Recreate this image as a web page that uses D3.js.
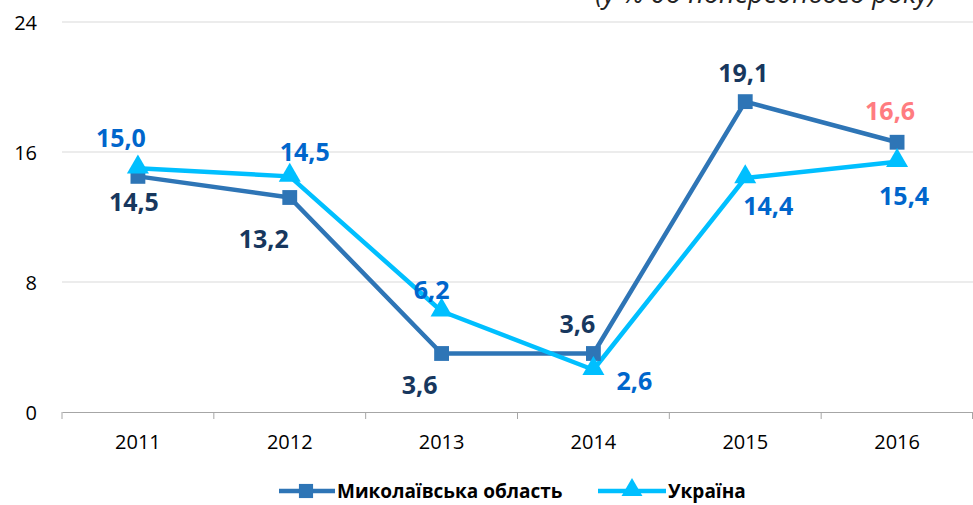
<!DOCTYPE html>
<html>
<head>
<meta charset="utf-8">
<script src="https://cdn.jsdelivr.net/npm/d3@7"></script>
<style>
  body { margin: 0; background: #fff; }
  svg { display: block; font-family: "Open Sans", sans-serif; }
</style>
</head>
<body>
<svg width="973" height="505"></svg>
<script>
var years = ['2011', '2012', '2013', '2014', '2015', '2016'];
var mykolaiv = [14.5, 13.2, 3.6, 3.6, 19.1, 16.6];
var ukraine = [15.0, 14.5, 6.2, 2.6, 14.4, 15.4];
var yTicks = [0, 8, 16, 24];

// label placement per point [dx, dy]
var mykOffsets = [[-4, 25], [-26, 40], [-22, 30], [-16, -31], [-2, -30], [-7, -32]];
var ukrOffsets = [[-17, -31], [15, -25], [-10, -22], [41, 10], [23, 27], [7, 33]];
var mykLabelColors = ['#17375e', '#17375e', '#17375e', '#17375e', '#17375e', '#ff7c80'];

var width = 973, height = 505;
var margin = {left: 62, right: 0, top: 22, bottom: 93};

const svg = d3.select('svg');

var x = d3.scaleBand().domain(years).range([margin.left, width - margin.right]);
var y = d3.scaleLinear().domain([0, 24]).range([height - margin.bottom, margin.top]);

// subtitle, cut off by the top edge as in the source
svg.append('text')
  .attr('x', 936).attr('y', 3)
  .attr('text-anchor', 'end')
  .style('font-style', 'italic')
  .style('font-size', '27px')
  .attr('fill', '#222')
  .text('(у % до попереднього року)');

// gridlines
svg.append('g')
  .selectAll('line')
  .data(yTicks.filter(d => d > 0))
  .enter().append('line')
  .attr('x1', margin.left).attr('x2', width)
  .attr('y1', d => y(d)).attr('y2', d => y(d))
  .style('stroke', '#d9d9d9').style('stroke-width', 1.2);

// y tick labels
svg.append('g')
  .selectAll('text')
  .data(yTicks)
  .enter().append('text')
  .attr('x', 37).attr('y', d => y(d))
  .attr('text-anchor', 'end')
  .attr('dominant-baseline', 'central')
  .style('font-size', '20px')
  .attr('fill', '#000')
  .text(d => d);

// x axis
var xAxis = d3.axisBottom(x).tickSize(0).tickPadding(23);
var gx = svg.append('g')
  .attr('transform', 'translate(0,' + y(0) + ')')
  .call(xAxis);
gx.select('.domain').style('stroke', '#a6a6a6');
gx.selectAll('text').style('font-size', '20px').style('font-family', '"Open Sans", sans-serif').attr('fill', '#000');
// category boundary ticks
var bounds = years.map(d => x(d));
bounds.push(x(years[years.length - 1]) + x.bandwidth());
gx.selectAll('.bound')
  .data(bounds)
  .enter().append('line')
  .attr('class', 'bound')
  .attr('x1', d => Math.min(d, width - 0.5)).attr('x2', d => Math.min(d, width - 0.5))
  .attr('y1', 0).attr('y2', 7)
  .style('stroke', '#a6a6a6');

var cx = d => x(d) + x.bandwidth() / 2;
var line = d3.line().x(d => cx(d.year)).y(d => y(d.v));

var mykData = years.map((yr, i) => ({year: yr, v: mykolaiv[i]}));
var ukrData = years.map((yr, i) => ({year: yr, v: ukraine[i]}));

var mykColor = '#2e75b6';
var ukrColor = '#00bfff';

svg.append('path').datum(mykData)
  .attr('d', line).attr('fill', 'none')
  .style('stroke', mykColor).style('stroke-width', 4.5).style('stroke-linejoin', 'round');

svg.append('path').datum(ukrData)
  .attr('d', line).attr('fill', 'none')
  .style('stroke', ukrColor).style('stroke-width', 4.5).style('stroke-linejoin', 'round');

var sq = d3.symbol().type(d3.symbolSquare).size(220);
var tri = d3.symbol().type(d3.symbolTriangle).size(210);

svg.append('g').selectAll('path')
  .data(mykData).enter().append('path')
  .attr('d', sq)
  .attr('transform', d => 'translate(' + cx(d.year) + ',' + y(d.v) + ')')
  .attr('fill', mykColor);

svg.append('g').selectAll('path')
  .data(ukrData).enter().append('path')
  .attr('d', tri)
  .attr('transform', d => 'translate(' + cx(d.year) + ',' + (y(d.v) - 1) + ')')
  .attr('fill', ukrColor);

var fmt = v => d3.format('.1f')(v).replace('.', ',');

// data labels
svg.append('g').selectAll('text')
  .data(mykData).enter().append('text')
  .attr('x', (d, i) => cx(d.year) + mykOffsets[i][0])
  .attr('y', (d, i) => y(d.v) + mykOffsets[i][1])
  .attr('text-anchor', 'middle')
  .attr('dominant-baseline', 'central')
  .style('font-size', '25px').style('font-weight', 'bold')
  .attr('fill', (d, i) => mykLabelColors[i])
  .text(d => fmt(d.v));

svg.append('g').selectAll('text')
  .data(ukrData).enter().append('text')
  .attr('x', (d, i) => cx(d.year) + ukrOffsets[i][0])
  .attr('y', (d, i) => y(d.v) + ukrOffsets[i][1])
  .attr('text-anchor', 'middle')
  .attr('dominant-baseline', 'central')
  .style('font-size', '25px').style('font-weight', 'bold')
  .attr('fill', '#0066cc')
  .text(d => fmt(d.v));

// legend
var lg = svg.append('g').attr('transform', 'translate(0,491)');
var l1 = lg.append('g').attr('transform', 'translate(279,0)');
l1.append('line').attr('x1', 0).attr('x2', 56).attr('y1', 0).attr('y2', 0)
  .style('stroke', mykColor).style('stroke-width', 4.5);
l1.append('path').attr('d', d3.symbol().type(d3.symbolSquare).size(200)).attr('transform', 'translate(27,0)').attr('fill', mykColor);
l1.append('text').attr('x', 58).attr('y', 0).attr('dominant-baseline', 'central')
  .style('font-size', '19px').style('font-weight', 'bold').attr('fill', '#000').text('Миколаївська область');

var l2 = lg.append('g').attr('transform', 'translate(598,0)');
l2.append('line').attr('x1', 0).attr('x2', 68).attr('y1', 0).attr('y2', 0)
  .style('stroke', ukrColor).style('stroke-width', 4.5);
l2.append('path').attr('d', d3.symbol().type(d3.symbolTriangle).size(190)).attr('transform', 'translate(34,-1)').attr('fill', ukrColor);
l2.append('text').attr('x', 70).attr('y', 0).attr('dominant-baseline', 'central')
  .style('font-size', '19px').style('font-weight', 'bold').attr('fill', '#000').text('Україна');
</script>
</body>
</html>
